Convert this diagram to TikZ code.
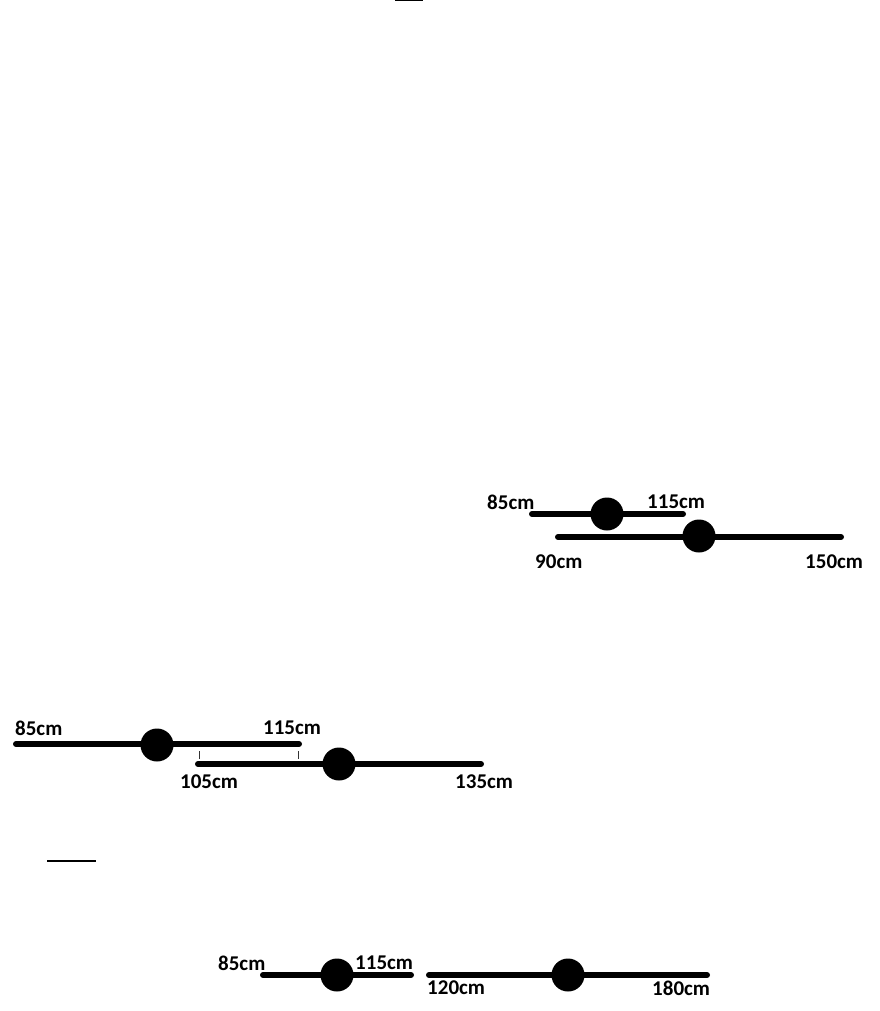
\documentclass[tikz,border=0pt]{standalone}
\usepackage{fontspec}
\setmainfont{Carlito}
\usepackage{tikz}
\usetikzlibrary{positioning}

\begin{document}
\begin{tikzpicture}[x=1pt, y=-1pt,
    every node/.style={font=\fontsize{21}{24}\selectfont\bfseries, inner sep=0pt},
    bar/.style={line width=6pt, line cap=round},
    pivot/.style={circle, fill=black, minimum size=33pt},
    lbl/.style={anchor=west},
    tick/.style={line width=1pt, black!80}]
    \useasboundingbox (0,0) rectangle (879,1011);

    % underline cut at the top
    \draw[line width=2pt] (395,0.5) -- (423,0.5);

    % first pair
    \coordinate (a1) at (532,514);
    \coordinate (a2) at (683,514);
    \coordinate (b1) at (558,537);
    \coordinate (b2) at (841,537);
    \draw[bar] (a1) -- (a2);
    \draw[bar] (b1) -- (b2);
    \node[pivot] (pa) at (607,514) {};
    \node[pivot] (pb) at (699,536) {};
    \node[lbl] (la1) at (487,502) {85cm};
    \node[lbl] (la2) at (647,502) {115cm};
    \node[lbl] (lb1) at (535,562) {90cm};
    \node[lbl] (lb2) at (805,562) {150cm};

    % second pair
    \coordinate (c1) at (16,744);
    \coordinate (c2) at (299,744);
    \coordinate (d1) at (198,764);
    \coordinate (d2) at (481,764);
    \draw[bar] (c1) -- (c2);
    \draw[bar] (d1) -- (d2);
    \node[pivot] (pc) at (157,745) {};
    \node[pivot] (pd) at (339,764) {};
    \draw[tick] (199,751) -- (199,759);
    \draw[tick] (298,751) -- (298,759);
    \node[lbl] (lc1) at (15,728) {85cm};
    \node[lbl] (lc2) at (263,728) {115cm};
    \node[lbl] (ld1) at (180,782) {105cm};
    \node[lbl] (ld2) at (455,782) {135cm};

    \draw[line width=2pt] (47,861) -- (96,861);

    % third pair
    \coordinate (e1) at (263,975);
    \coordinate (e2) at (411,975);
    \coordinate (f1) at (429,975);
    \coordinate (f2) at (707,975);
    \draw[bar] (e1) -- (e2);
    \draw[bar] (f1) -- (f2);
    \node[pivot] (pe) at (337,975) {};
    \node[pivot] (pf) at (568,975) {};
    \node[lbl] (le1) at (218,963) {85cm};
    \node[lbl] (le2) at (355,963) {115cm};
    \node[lbl] (lf1) at (427,988) {120cm};
    \node[lbl] (lf2) at (652,988) {180cm};
\end{tikzpicture}
\end{document}
